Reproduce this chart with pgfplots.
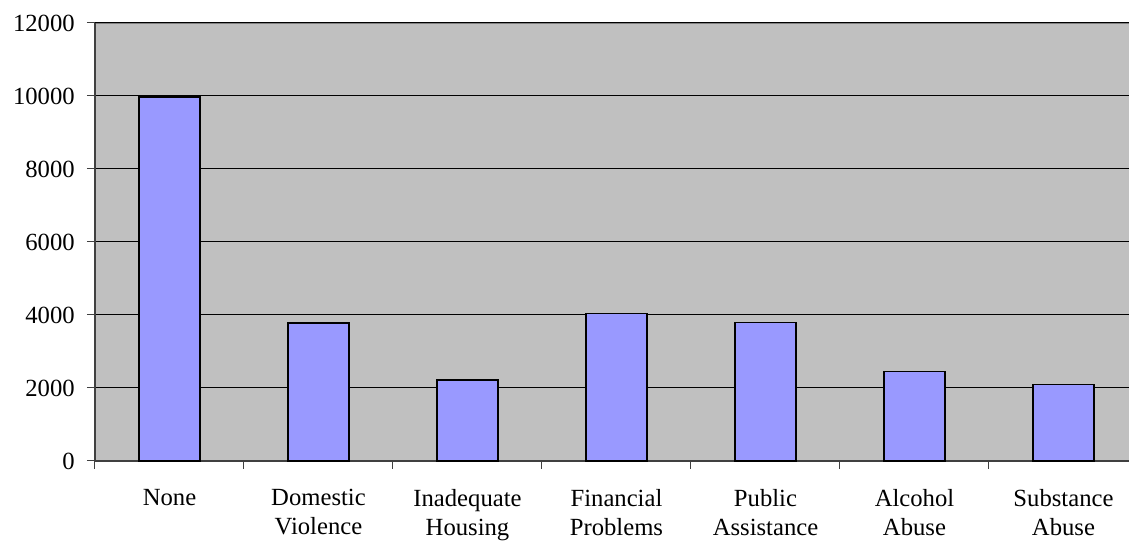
\documentclass[border=0pt]{standalone}
\usepackage{pgfplots}
\pgfplotsset{compat=1.18}
\usepackage{fontspec}
\setmainfont{Liberation Serif}
\definecolor{plotbg}{HTML}{C0C0C0}
\definecolor{barfill}{HTML}{9999FF}
\definecolor{axisdark}{HTML}{404040}
\begin{document}
\fontsize{18}{22.5}\selectfont
\begin{tikzpicture}
\begin{axis}[
  name=ax,
  scale only axis,
  width=782.25pt, height=328.5pt,
  xmin=-0.5, xmax=6.5,
  ymin=0, ymax=12000,
  axis x line*=bottom,
  axis y line*=left,
  axis line style={draw=axisdark, line width=0.9pt},
  axis background/.style={fill=plotbg, draw=gray, line width=0.9pt},
  xtick={0,...,6},
  xticklabels={None,{Domestic\\Violence},{Inadequate\\Housing},{Financial\\Problems},{Public\\Assistance},{Alcohol\\Abuse},{Substance\\Abuse}},
  xticklabel style={align=center, font=\fontsize{18.5}{22}\selectfont, yshift=-9pt},
  major x tick style={draw=none},
  minor xtick={-0.5,0.5,...,5.5},
  minor x tick style={draw=axisdark, line width=0.75pt},
  ytick={0,2000,...,12000},
  yticklabel style={font=\fontsize{18.5}{22.5}\selectfont, xshift=-3pt},
  major y tick style={draw=axisdark, line width=0.75pt},
  tick align=outside,
  major tick length=6pt,
  minor tick length=6pt,
  ymajorgrids,
  major grid style={draw=black, line width=0.75pt},
  /pgf/number format/assume math mode=true,
  scaled y ticks=false,
  yticklabel={\pgfmathprintnumber[fixed,1000 sep={}]{\tick}},
  clip=false,
]
\addplot[ybar, bar width=45.75pt, fill=barfill, draw=black, line width=1pt]
  coordinates {(0,9970) (1,3780) (2,2220) (3,4050) (4,3800) (5,2460) (6,2090)};
\end{axis}
\pgfresetboundingbox
\path[use as bounding box] ([shift={(-71.25pt,-60.75pt)}]ax.south west) rectangle ([shift={(775.5pt,345.75pt)}]ax.south west);
\end{tikzpicture}
\end{document}
